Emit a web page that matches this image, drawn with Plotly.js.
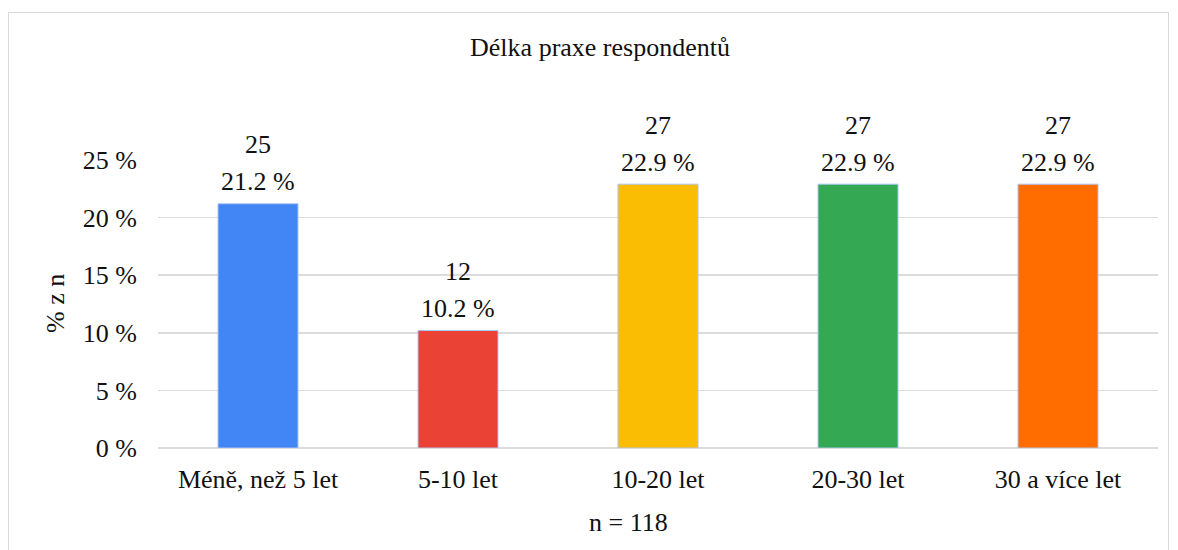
<!DOCTYPE html>
<html>
<head>
<meta charset="utf-8">
<script src="https://cdn.plot.ly/plotly-3.0.1.min.js"></script>
<style>
html,body{margin:0;padding:0;background:#fff;}
#wrap{position:relative;width:1178px;height:550px;overflow:hidden;}
#chart{position:absolute;left:0;top:0;width:1178px;height:550px;}
#frame{position:absolute;left:8px;top:12px;width:1159px;height:600px;border:1px solid #d9d9d9;pointer-events:none;}
</style>
</head>
<body>
<div id="wrap"><div id="chart"></div><div id="frame"></div></div>
<script>
const categories = ["Méně, než 5 let", "5-10 let", "10-20 let", "20-30 let", "30 a více let"];
const counts = [25, 12, 27, 27, 27];
const percents = [21.2, 10.2, 22.9, 22.9, 22.9];
const colors = ["#4285f4", "#ea4335", "#fbbc04", "#34a853", "#ff6d01"];
const yTickVals = [0, 5, 10, 15, 20, 25];
const yTickText = ["0 %", "5 %", "10 %", "15 %", "20 %", "25 %"];

const font = "Liberation Serif";
const fs = 26;
const txt = "#111";

const annotations = [];
categories.forEach((c, i) => {
  annotations.push({x: c, y: percents[i], xref: "x", yref: "y", text: percents[i].toFixed(1) + " %",
    showarrow: false, yanchor: "middle", yshift: 22, font: {family: font, size: fs, color: txt}});
  annotations.push({x: c, y: percents[i], xref: "x", yref: "y", text: String(counts[i]),
    showarrow: false, yanchor: "middle", yshift: 59, font: {family: font, size: fs, color: txt}});
});
annotations.push({text: "% z n", xref: "paper", yref: "paper", x: -103/1000, y: 0.5, xanchor: "center", yanchor: "middle",
  textangle: -90, showarrow: false, font: {family: font, size: fs, color: txt}});
annotations.push({text: "n = 118", xref: "paper", yref: "paper", x: (628-158)/1000, y: -(522-448)/288, xanchor: "center", yanchor: "middle",
  showarrow: false, font: {family: font, size: fs, color: txt}});

Plotly.newPlot("chart", [{
  type: "bar",
  x: categories,
  y: percents,
  cliponaxis: false,
  marker: {color: colors, line: {color: "#a8c5f5", width: 1}},
  hoverinfo: "none"
}], {
  width: 1178, height: 550,
  margin: {l: 158, r: 20, t: 160, b: 102},
  paper_bgcolor: "rgba(0,0,0,0)",
  plot_bgcolor: "#fff",
  bargap: 0.6,
  showlegend: false,
  font: {family: font, size: fs, color: txt},
  title: {text: "Délka praxe respondentů", font: {family: font, size: fs, color: txt},
          x: 600/1178, xanchor: "center", y: 1 - 47/550, yanchor: "middle", yref: "container"},
  xaxis: {type: "category", showgrid: false, zeroline: false, showline: false,
          ticks: "", ticklabelstandoff: 13, tickfont: {family: font, size: fs, color: txt}},
  yaxis: {range: [0, 25], tickvals: yTickVals, ticktext: yTickText,
          showgrid: true, gridcolor: "#dcdcdc", gridwidth: 1.5, zeroline: true, zerolinecolor: "#dcdcdc", zerolinewidth: 1.5,
          showline: false, ticks: "", ticklabelstandoff: 20, tickfont: {family: font, size: fs, color: txt}},
  annotations: annotations
}, {staticPlot: true, displayModeBar: false});
</script>
</body>
</html>
